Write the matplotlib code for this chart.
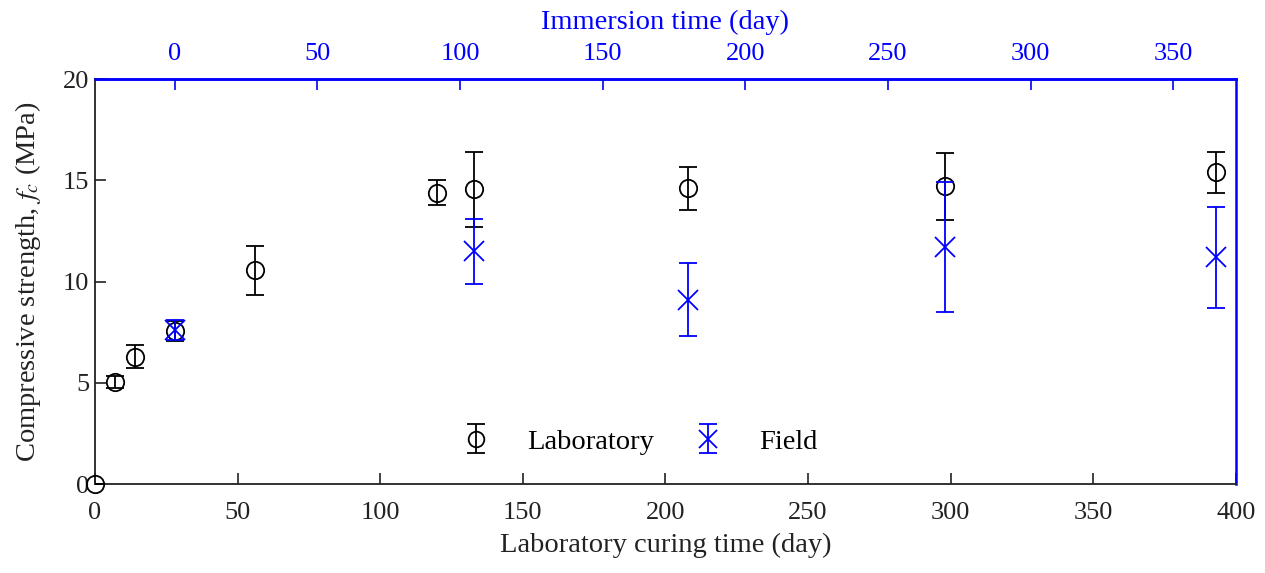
import numpy as np
import matplotlib.pyplot as plt

plt.rcParams['font.family'] = ['Liberation Serif', 'DejaVu Serif']
plt.rcParams['mathtext.fontset'] = 'stix'

# laboratory curing (days since casting)
lab_t = [0, 7, 14, 28, 56, 120, 133, 208, 298, 393]
lab_fc = [0, 5.05, 6.3, 7.55, 10.55, 14.4, 14.55, 14.6, 14.7, 15.4]
lab_err = [0, 0.3, 0.55, 0.5, 1.2, 0.6, 1.85, 1.05, 1.65, 1.0]

# field (immersed) specimens
field_t = [28, 133, 208, 298, 393]
field_fc = [7.6, 11.5, 9.1, 11.7, 11.2]
field_err = [0.5, 1.6, 1.8, 3.2, 2.5]

offset = 28
dark = '#222222'
blue = '#0000ff'

fig, ax = plt.subplots(figsize=(12.65, 5.73), dpi=100)
fig.subplots_adjust(left=0.075, right=0.977, top=0.862, bottom=0.155)

lab = ax.errorbar(lab_t, lab_fc, yerr=lab_err, fmt='o', mfc='none', mec='black',
                  color='black', ms=12.5, mew=1.3, elinewidth=1.3, capsize=6.5,
                  capthick=1.3, label='Laboratory', zorder=3)
fld = ax.errorbar(field_t, field_fc, yerr=field_err, fmt='x', color=blue,
                  ms=15, mew=1.3, elinewidth=1.3, capsize=6.5, capthick=1.3,
                  label='Field', zorder=4)
lab.lines[0].set_clip_on(False)

ax.set_xlim(0, 400)
ax.set_ylim(0, 20)
ax.set_xticks(np.arange(0, 401, 50))
ax.set_yticks(np.arange(0, 21, 5))
ax.tick_params(direction='in', length=8, width=1.2, labelsize=19,
               colors=dark, top=False, right=False)
ax.tick_params(axis='x', pad=13)
ax.tick_params(axis='y', pad=4)
ax.set_xlabel('Laboratory curing time (day)', fontsize=20.5, color=dark, labelpad=6)
ax.set_ylabel('Compressive strength, $f_c$ (MPa)', fontsize=20.5, color=dark, labelpad=14)

for s in ['left', 'bottom']:
    ax.spines[s].set_color(dark)
    ax.spines[s].set_linewidth(1.3)
for s in ['top', 'right']:
    ax.spines[s].set_color(blue)
    ax.spines[s].set_linewidth(1.8)

top = ax.secondary_xaxis('top', functions=(lambda x: x - offset, lambda x: x + offset))
top.set_xticks(np.arange(0, 351, 50))
top.tick_params(direction='in', length=8, width=1.2, labelsize=19, colors=blue, pad=10)
top.spines['top'].set_color(blue)
top.spines['top'].set_linewidth(1.8)
top.set_xlabel('Immersion time (day)', fontsize=20.5, color=blue, labelpad=10)

leg = ax.legend(loc='lower center', bbox_to_anchor=(0.471, 0.01), ncol=2,
                frameon=False, fontsize=20.5, handlelength=2.0,
                columnspacing=0.9, handletextpad=0.8, markerscale=0.9)

fig.savefig('out.png', dpi=100)
